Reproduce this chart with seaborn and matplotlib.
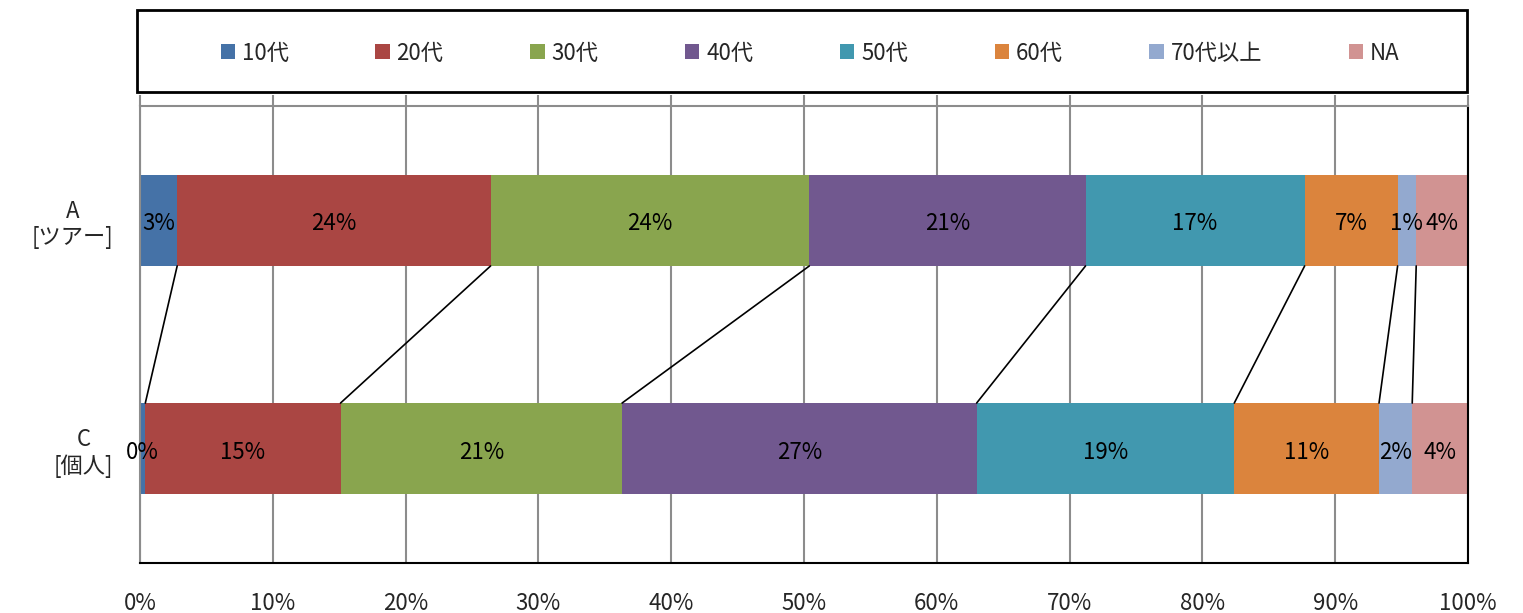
import numpy as np
import pandas as pd
import matplotlib
matplotlib.use('Agg')
import matplotlib.pyplot as plt
from matplotlib.patches import Patch, Rectangle
import seaborn as sns

# Data (share in %, per age group)
groups = ['A\n[ツアー]', 'C\n[個人]']
ages = ['10代', '20代', '30代', '40代', '50代', '60代', '70代以上', 'NA']
share_a = [2.8, 23.6, 24.0, 20.8, 16.5, 7.0, 1.4, 3.9]
share_c = [0.4, 14.7, 21.2, 26.7, 19.4, 10.9, 2.5, 4.2]
labels_a = ['3%', '24%', '24%', '21%', '17%', '7%', '1%', '4%']
labels_c = ['0%', '15%', '21%', '27%', '19%', '11%', '2%', '4%']
colors = ['#4572A7', '#AA4643', '#89A54E', '#71588F',
          '#4198AF', '#DB843D', '#93A9CF', '#D19392']

sns.set_style('white')
plt.rcParams['font.family'] = ['Noto Sans CJK JP', 'DejaVu Sans']
plt.rcParams['font.size'] = 16

fig = plt.figure(figsize=(15.23, 6.13), dpi=100)
ax = fig.add_axes([140 / 1523, 50 / 613, 1328 / 1523, 457 / 613])

# cumulative totals, drawn largest first so each segment shows through
cum_a = np.cumsum(share_a)
cum_c = np.cumsum(share_c)
df = pd.DataFrame({'group': np.repeat(groups, len(ages)),
                   'age': ages * 2,
                   'cum': np.concatenate([cum_a, cum_c])})

for i in reversed(range(len(ages))):
    sub = df[df['age'] == ages[i]]
    sns.barplot(data=sub, x='cum', y='group', order=groups, orient='h',
                color=colors[i], width=0.4, linewidth=0, saturation=1, ax=ax)

# value labels centred in each segment
for cum, shares, labels, row in [(cum_a, share_a, labels_a, 0),
                                  (cum_c, share_c, labels_c, 1)]:
    for end, s, lab in zip(cum, shares, labels):
        ax.text(end - s / 2, row + 0.015, lab, ha='center', va='center',
                fontsize=16, color='black')

# series lines between the two bars
for i in range(len(ages) - 1):
    ax.plot([cum_a[i], cum_c[i]], [0.2, 0.8], color='black', lw=1.2,
            zorder=1)

ax.set_xlim(0, 100)
ax.set_ylim(1.5, -0.5)
ax.set_xticks(np.arange(0, 101, 10))
ax.set_xticklabels([f'{v}%' for v in range(0, 101, 10)])
ax.set_xlabel('')
ax.set_ylabel('')
ax.xaxis.grid(True, color='#8c8c8c', lw=1.5)
ax.set_axisbelow(True)
ax.tick_params(axis='x', bottom=False, top=True, length=8, width=1.5,
               color='#8c8c8c', pad=13, labelsize=16)
ax.tick_params(axis='y', which='major', length=0, pad=19, labelsize=16)
for t in ax.get_yticklabels():
    t.set_multialignment('center')
ax.set_yticks([-0.5, 0.5, 1.5], minor=True)
ax.tick_params(axis='y', which='minor', length=8, width=1.5, color='#8c8c8c')

for side in ['left', 'top']:
    ax.spines[side].set_color('#8c8c8c')
    ax.spines[side].set_linewidth(1.5)
for side in ['right', 'bottom']:
    ax.spines[side].set_color('black')
    ax.spines[side].set_linewidth(1.5)

# legend in a framed box above the plot
fig.patches.append(Rectangle((137 / 1523, 521 / 613), 1330 / 1523, 82 / 613,
                             transform=fig.transFigure, fill=False,
                             edgecolor='black', lw=2))
handles = [Patch(facecolor=c, edgecolor='none') for c in colors]
fig.legend(handles, ages, loc='center', ncol=8, frameon=False,
           bbox_to_anchor=(810 / 1523, 560 / 613), fontsize=16,
           handlelength=0.65, handleheight=0.65, handletextpad=0.3,
           columnspacing=3.9)

fig.savefig('out.png', dpi=100)
